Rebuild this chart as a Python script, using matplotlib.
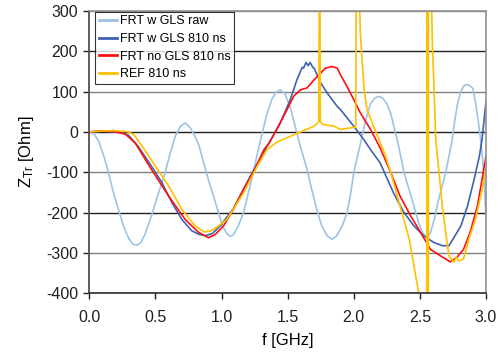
import matplotlib
matplotlib.use("Agg")
import matplotlib.pyplot as plt
from matplotlib.ticker import FormatStrFormatter, MultipleLocator

plt.rcParams['font.family'] = ['Liberation Sans', 'DejaVu Sans']
plt.rcParams['mathtext.fontset'] = 'custom'
plt.rcParams['mathtext.rm'] = 'Liberation Sans'
plt.rcParams['mathtext.it'] = 'Liberation Sans:italic'

# ---- data (f in GHz, Z in Ohm) ----
raw_f = [0.0, 0.035, 0.07, 0.11, 0.145, 0.18, 0.22, 0.26, 0.30, 0.33, 0.36, 0.39, 0.42,
         0.47, 0.52, 0.573, 0.61, 0.65, 0.69, 0.725, 0.76, 0.79, 0.826, 0.86, 0.90,
         0.94, 0.977, 1.01, 1.04, 1.066, 1.09, 1.12, 1.167, 1.20, 1.24, 1.27, 1.306,
         1.34, 1.38, 1.41, 1.445, 1.48, 1.52, 1.56, 1.596, 1.647, 1.68, 1.72, 1.76,
         1.80, 1.836, 1.87, 1.91, 1.95, 1.975, 2.0, 2.025, 2.05, 2.09, 2.127, 2.16,
         2.19, 2.22, 2.25, 2.28, 2.31, 2.34, 2.38, 2.42, 2.455, 2.49, 2.52, 2.556,
         2.58, 2.61, 2.64, 2.695, 2.72, 2.745, 2.76, 2.785, 2.81, 2.83, 2.846, 2.87,
         2.9, 2.92, 2.94, 2.96, 2.975, 2.99, 3.0]
raw_z = [0, -5, -22, -60, -100, -148, -192, -235, -265, -278, -281, -274, -255,
         -208, -155, -101, -55, -11, 14, 22, 12, -5, -30, -70, -118,
         -160, -200, -235, -252, -259, -255, -238, -200, -155, -101, -55, -5,
         40, 80, 98, 104, 94, 60, 10, -36, -93, -140, -192, -235,
         -258, -266, -258, -235, -200, -155, -101, -65, -30, 30, 70, 84,
         88, 83, 70, 45, 5, -36, -101, -145, -184, -225, -250, -262,
         -250, -215, -170, -101, -60, -19, 20, 70, 100, 113, 117, 116,
         108, 75, 30, -20, -70, -150, -215]

gls_f = [0.0, 0.1, 0.2, 0.25, 0.295, 0.37, 0.47, 0.55, 0.624, 0.70, 0.775, 0.83, 0.877,
         0.93, 0.99, 1.09, 1.217, 1.344, 1.445, 1.52, 1.57, 1.61, 1.62, 1.64, 1.655,
         1.67, 1.69, 1.70, 1.75, 1.80, 1.875, 1.90, 2.0, 2.076, 2.127, 2.2, 2.30, 2.38,
         2.455, 2.53, 2.606, 2.67, 2.72, 2.757, 2.81, 2.86, 2.91, 2.95, 2.97, 3.0]
gls_z = [0, 2, 0, -3, -8, -36, -85, -126, -175, -217, -245, -254, -257,
         -252, -233, -190, -110, -36, 22, 80, 129, 160, 158, 172, 164,
         172, 160, 158, 121, 96, 63, 55, 14, -19, -44, -77, -151, -200,
         -233, -258, -274, -282, -282, -262, -233, -184, -118, -60, -19, 75]

nogls_f = [0.0, 0.1, 0.2, 0.27, 0.346, 0.47, 0.60, 0.725, 0.826, 0.90, 0.95, 1.015, 1.09,
           1.167, 1.24, 1.32, 1.36, 1.42, 1.495, 1.545, 1.596, 1.647, 1.70, 1.735, 1.786,
           1.836, 1.875, 1.90, 1.95, 2.0, 2.05, 2.127, 2.2, 2.28, 2.35, 2.43, 2.505, 2.58,
           2.655, 2.73, 2.78, 2.83, 2.88, 2.935, 2.97, 3.0]
nogls_z = [0, 2, 0, -5, -27, -93, -159, -217, -249, -262, -255, -233, -192,
           -142, -101, -44, -28, 8, 55, 88, 104, 109, 129, 141, 158,
           162, 158, 141, 112, 80, 47, 6, -40, -101, -159, -208, -249, -291,
           -307, -322, -311, -291, -249, -184, -118, -60]

ref_f = [0.0, 0.1, 0.2, 0.3, 0.34, 0.40, 0.50, 0.60, 0.70, 0.80, 0.87, 0.92, 0.97, 1.04,
         1.167, 1.27, 1.344, 1.42, 1.52, 1.60, 1.70, 1.735, 1.742, 1.747, 1.77, 1.85,
         1.90, 1.975, 2.015, 2.02, 2.04, 2.045, 2.05, 2.063, 2.076, 2.10, 2.15, 2.19,
         2.23, 2.28, 2.35, 2.42, 2.455, 2.49, 2.53, 2.550, 2.556, 2.562, 2.566, 2.58,
         2.594, 2.606, 2.62, 2.645, 2.67, 2.695, 2.72, 2.757, 2.775, 2.795, 2.83, 2.87,
         2.92, 2.96, 3.0]
ref_z = [0, 2, 3, 0, -8, -36, -85, -134, -192, -233, -248, -245, -235, -217,
         -151, -85, -44, -25, -11, 0, 14, 25, 600, 25, 18, 14,
         6, 10, 12, 600, 600, 300, 245, 178, 112, 55, 14, -19,
         -50, -101, -184, -266, -332, -397, -700, -2000, 2000, -2000, 2000, 500,
         220, 121, -20, -101, -184, -249, -307, -323, -310, -320, -315, -266,
         -217, -159, -93]

labels = ["FRT w GLS raw", "FRT w GLS 810 ns", "FRT no GLS 810 ns", "REF 810 ns"]
colors = ["#9DC3E6", "#3E62B0", "#FF1010", "#FFC000"]

fig = plt.figure(figsize=(5.0, 3.54), dpi=100)
ax = fig.add_axes([0.1786, 0.1714, 0.7934, 0.7981])

series = [(raw_f, raw_z), (gls_f, gls_z), (nogls_f, nogls_z), (ref_f, ref_z)]
for (fx, zy), lab, col in zip(series, labels, colors):
    ax.plot(fx, zy, color=col, lw=1.2, label=lab)

ax.set_xlim(0, 3.0)
ax.set_ylim(-400, 300)
ax.xaxis.set_major_locator(MultipleLocator(0.5))
ax.yaxis.set_major_locator(MultipleLocator(100))
ax.xaxis.set_major_formatter(FormatStrFormatter('%.1f'))
ax.yaxis.set_major_formatter(FormatStrFormatter('%d'))

ax.yaxis.grid(True, color='#303030', lw=1.0)
ax.set_axisbelow(True)
gl = ax.get_ygridlines()
for i, line in enumerate(gl):
    line.set_color('#808080' if i % 2 == 0 else '#202020')

for s in ['top', 'right']:
    ax.spines[s].set_color('#909090')
    ax.spines[s].set_linewidth(1.2)
ax.spines['left'].set_color('#505050')
ax.spines['left'].set_linewidth(1.3)
ax.spines['bottom'].set_color('#303030')
ax.spines['bottom'].set_linewidth(1.2)

ax.tick_params(axis='both', labelsize=11.5, colors='#202020', length=4, width=1.0,
               direction='out', pad=4)
ax.tick_params(axis='x', pad=8)

ax.set_xlabel('f [GHz]', fontsize=12, labelpad=6)
ax.set_ylabel(r'Z$_{\mathrm{Tr}}$ [Ohm]', fontsize=12, labelpad=7)

leg = ax.legend(loc='upper left', bbox_to_anchor=(0.015, 0.997), fontsize=9,
                frameon=True, fancybox=False, edgecolor='#000000',
                handlelength=1.4, handletextpad=0.25, borderpad=0.3,
                labelspacing=0.45, borderaxespad=0)
leg.get_frame().set_linewidth(0.8)
for h in leg.get_lines():
    h.set_linewidth(2.0)

fig.savefig('out.png', dpi=100)
